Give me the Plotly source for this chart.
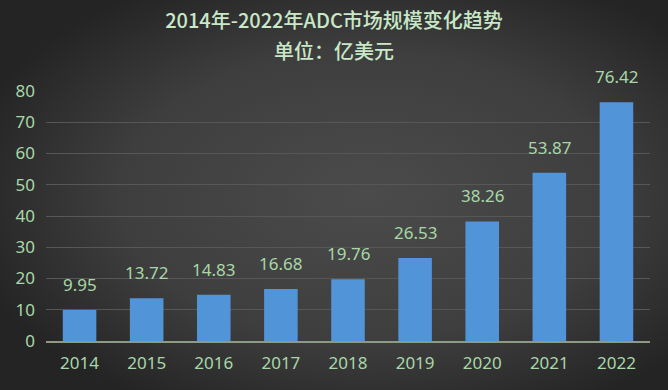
import base64
import plotly.graph_objects as go

years = ["2014", "2015", "2016", "2017", "2018", "2019", "2020", "2021", "2022"]
values = [9.95, 13.72, 14.83, 16.68, 19.76, 26.53, 38.26, 53.87, 76.42]
y_ticks = [0, 10, 20, 30, 40, 50, 60, 70, 80]
title_line1 = "2014年-2022年ADC市场规模变化趋势"
title_line2 = "单位：亿美元"

W, H = 668, 390
ML, MR, MT, MB = 46, 18, 91, 49
PW, PH = W - ML - MR, H - MT - MB

svg = f'''<svg xmlns="http://www.w3.org/2000/svg" width="{W}" height="{H}" viewBox="0 0 {W} {H}" preserveAspectRatio="none">
<defs><radialGradient id="g" cx="0.55" cy="0.5" r="0.62" gradientUnits="objectBoundingBox">
<stop offset="0" stop-color="#4b4b4b"/><stop offset="0.6" stop-color="#3e3e3e"/><stop offset="1" stop-color="#242424"/>
</radialGradient></defs><rect width="{W}" height="{H}" fill="url(#g)"/></svg>'''
bg_src = "data:image/svg+xml;base64," + base64.b64encode(svg.encode()).decode()

label_color = "#a8d8a8"
title_color = "#c8e8c8"
title_font = dict(family="Noto Sans CJK SC", size=20, color=title_color, weight=500)

fig = go.Figure()
fig.add_trace(go.Bar(
    x=years, y=values,
    marker=dict(color="#5294d8", line=dict(width=0)),
    width=0.5,
    hoverinfo="x+y",
))

# category axis: annotations positioned by category index
for i, v in enumerate(values):
    fig.add_annotation(x=i, y=v, text=f"{v:.2f}", showarrow=False,
                       yanchor="bottom", yshift=12,
                       font=dict(family="Noto Sans", size=17, color=label_color))

fig.add_annotation(text=title_line2, xref="paper", yref="paper",
                   x=(W / 2 - ML) / PW, y=1 + (MT - 50) / PH,
                   xanchor="center", yanchor="middle", showarrow=False,
                   font=title_font)

fig.update_layout(
    width=W, height=H,
    margin=dict(l=ML, r=MR, t=MT, b=MB),
    paper_bgcolor="#333333",
    plot_bgcolor="rgba(0,0,0,0)",
    showlegend=False,
    title=dict(text=title_line1, x=0.5, xanchor="center", y=1 - 21 / H, yanchor="middle",
               font=title_font),
    images=[dict(source=bg_src, xref="paper", yref="paper",
                 x=-ML / PW, y=1 + MT / PH, sizex=W / PW, sizey=H / PH,
                 xanchor="left", yanchor="top", sizing="stretch", layer="below")],
    xaxis=dict(type="category", range=[-0.5, len(years) - 0.5], showgrid=False,
               showline=True, linecolor="#8c9c84", linewidth=2,
               ticks="", ticklabelstandoff=6,
               tickfont=dict(family="Noto Sans", size=17, color=label_color)),
    yaxis=dict(range=[0, 80], tickvals=y_ticks, showgrid=True, gridcolor="#575757",
               gridwidth=1, zeroline=False, showline=False, ticks="",
               ticklabelstandoff=10,
               tickfont=dict(family="Noto Sans", size=17, color=label_color)),
    bargap=0.5,
)

fig.write_html("out.html", config={"displayModeBar": False},
               post_script="document.body.style.margin='0';")
